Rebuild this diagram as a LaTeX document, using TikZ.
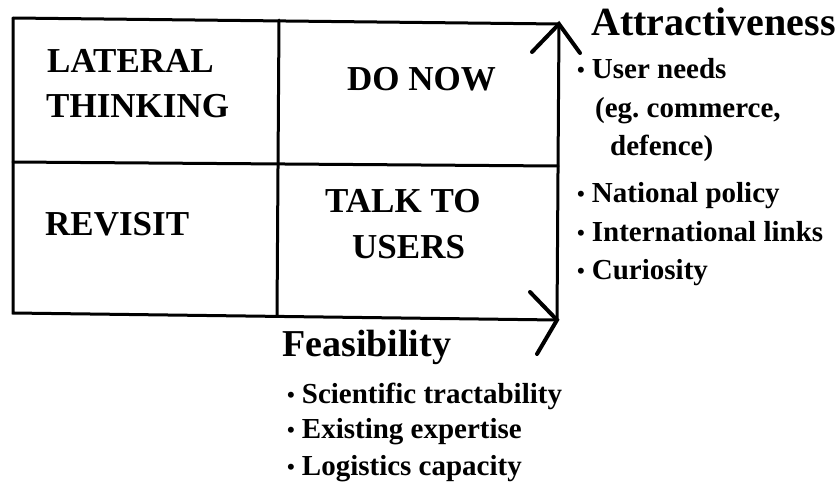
\documentclass[tikz,border=0pt]{standalone}
\usepackage{fontspec}
\setmainfont{Liberation Serif}
\newcommand\mybul{{\fontsize{22}{22}\selectfont\raisebox{1pt}{•}}\hspace{7pt}}
\begin{document}
\begin{tikzpicture}[x=1pt,y=-1pt,
  boxline/.style={line width=3pt,line cap=round,line join=miter},
  armline/.style={line width=4pt,line cap=round},
  quad/.style={anchor=base west,inner sep=0pt,align=left,font=\fontsize{35}{45}\selectfont\bfseries},
  head/.style={anchor=base west,inner sep=0pt,font=\fontsize{40}{40}\selectfont\bfseries},
  item/.style={anchor=base west,inner sep=0pt,font=\fontsize{29}{29}\selectfont\bfseries}]
\useasboundingbox (0,0) rectangle (837,493);
% corners
\coordinate (tl) at (13,18);
\coordinate (tr) at (559,24);
\coordinate (br) at (557,320);
\coordinate (bl) at (13,313);
\coordinate (mt) at (279,20);
\coordinate (mb) at (277,316);
\coordinate (ml) at (13,162);
\coordinate (mr) at (558,166);
\coordinate (upL) at (532,52);
\coordinate (upR) at (580,53);
\coordinate (rtU) at (530,292);
\coordinate (rtD) at (537,354);
% box
\draw[boxline] (tl) -- (tr);
\draw[boxline] (tl) -- (bl) -- (br);
\draw[boxline] (br) -- (tr);
\draw[boxline] (mt) -- (mb);
\draw[boxline] (ml) -- (mr);
% arrow heads
\draw[armline] (upL) -- (tr) -- (upR);
\draw[armline] (rtU) -- (br) -- (rtD);
% quadrant labels
\node[quad] (lat) at (47,72) {LATERAL};
\node[quad] (thi) at (46,117) {THINKING};
\node[quad] (rev) at (45,235) {REVISIT};
\node[quad] (don) at (347,90) {DO NOW};
\node[quad] (tal) at (325,212) {TALK TO};
\node[quad] (use) at (352,258) {USERS};
% attractiveness
\node[head] (att) at (591,35) {Attractiveness};
\node[item] (a1) at (577,78) {\mybul User needs};
\node[item] (a2) at (595,117) {(eg.\ commerce,};
\node[item] (a3) at (610,155) {defence)};
\node[item] (a4) at (577,202) {\mybul National policy};
\node[item] (a5) at (577,241) {\mybul International links};
\node[item] (a6) at (577,279) {\mybul Curiosity};
% feasibility
\node[head,font=\fontsize{38}{38}\selectfont\bfseries] (fea) at (282,356) {Feasibility};
\node[item] (f1) at (287,403) {\mybul Scientific tractability};
\node[item] (f2) at (287,438) {\mybul Existing expertise};
\node[item] (f3) at (287,475) {\mybul Logistics capacity};
\end{tikzpicture}
\end{document}
